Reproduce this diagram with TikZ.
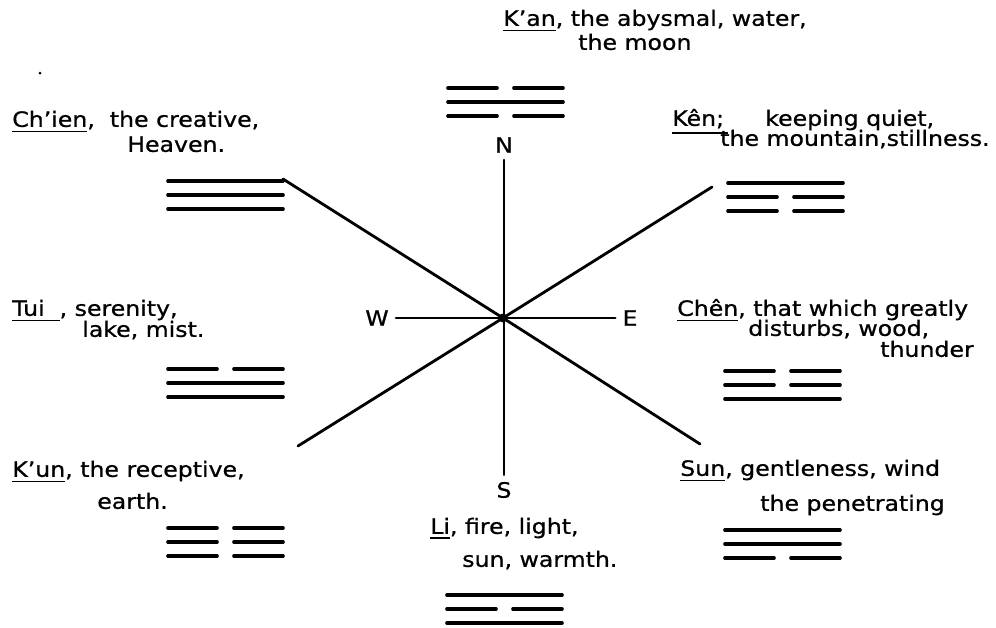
\documentclass[tikz,border=0pt]{standalone}
\usepackage{fontspec}
\setmainfont[FakeStretch=1.12,FakeBold=0.8]{DejaVu Sans}
\newcommand{\uword}[1]{\vtop{\hbox{#1}\kern2.4pt\hrule height 1.4pt}}
\newcommand{\trigram}[3]{\foreach \l [count=\i from 0] in {#3} {
    \ifnum\l=1
      \draw[bar] (#1,#2+14*\i) -- ++(115,0);
    \else
      \draw[bar] (#1,#2+14*\i) -- ++(49,0) ++(17,0) -- ++(49,0);
    \fi}}
\tikzset{
  bar/.style={line width=2.6pt},
  ray/.style={line width=2pt},
  lbl/.style={anchor=mid west, inner sep=0pt, font=\fontsize{15}{17}\selectfont},
  pt/.style={inner sep=5pt, font=\fontsize{15}{17}\selectfont}
}
\begin{document}
\begin{tikzpicture}[x=0.025cm, y=-0.025cm, line cap=round]
				\useasboundingbox (0,0) rectangle (996,627);
				\coordinate (c) at (503,318);
				\node[pt] (n) at (504,145) {N};
				\node[pt] (s) at (504,490) {S};
				\node[pt] (w) at (377,318) {W};
				\node[pt] (e) at (630,318) {E};
				\coordinate (nw) at (283,179);
				\coordinate (ne) at (712,187);
				\coordinate (sw) at (298,446);
				\coordinate (se) at (700,444);
				\draw[ray] (n) -- (s);
				\draw[ray] (w) -- (e);
				\draw[ray] (nw) -- (c) -- (se);
				\draw[ray] (sw) -- (c) -- (ne);
				\fill (c) circle (4.5);
				\fill (40,73) circle (1.5);
				\node[lbl] (kan1) at (503,22) {\uword{K'an}, the abysmal, water,};
				\node[lbl] (kan2) at (578,46) {the moon};
				\trigram{448}{88}{0,1,0}
				\node[lbl] (chien1) at (12,123) {\uword{Ch'ien},\ \ the creative,};
				\node[lbl] (chien2) at (127,148) {Heaven.};
				\trigram{168}{181}{1,1,1}
				\node[lbl] (ken1) at (672,122) {\uword{Kên;\hspace{3pt}}};
				\node[lbl] (ken2) at (765,122) {keeping quiet,};
				\node[lbl] (ken3) at (720,142) {the mountain,stillness.};
				\trigram{728}{183}{1,0,0}
				\node[lbl] (tui1) at (12,312) {\uword{Tui\ \ }, serenity,};
				\node[lbl] (tui2) at (82,333) {lake, mist.};
				\trigram{168}{369}{0,1,1}
				\node[lbl] (chen1) at (677,312) {\uword{Chên}, that which greatly};
				\node[lbl] (chen2) at (748,332) {disturbs, wood,};
				\node[lbl] (chen3) at (880,353) {thunder};
				\trigram{725}{371}{0,0,1}
				\node[lbl] (kun1) at (12,473) {\uword{K'un}, the receptive,};
				\node[lbl] (kun2) at (97,505) {earth.};
				\trigram{168}{528}{0,0,0}
				\node[lbl] (sun1) at (680,472) {\uword{Sun}, gentleness,\ wind};
				\node[lbl] (sun2) at (760,507) {the penetrating};
				\trigram{725}{530}{1,1,0}
				\node[lbl] (li1) at (430,530) {\uword{Li}, fire, light,};
				\node[lbl] (li2) at (462,563) {sun, warmth.};
				\trigram{447}{595}{1,0,1}
			\end{tikzpicture}
\end{document}
